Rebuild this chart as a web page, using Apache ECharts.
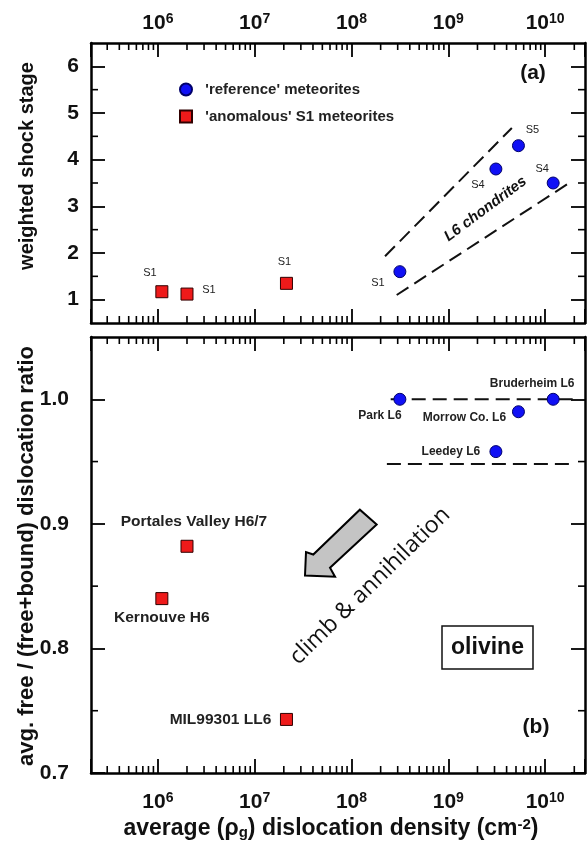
<!DOCTYPE html>
<html>
<head>
<meta charset="utf-8">
<script src="https://cdn.jsdelivr.net/npm/echarts@6/dist/echarts.min.js"></script>
<style>
html, body { margin: 0; padding: 0; background: #fff; }
#chart { width: 588px; height: 844px; }
</style>
</head>
<body>
<div id="chart"></div>
<script>
// reference meteorites (L6 chondrites)
const refDensity = [3.16e8, 3.1e9, 5.3e9, 1.21e10];
const refShock = [1.6, 3.8, 4.3, 3.5];
const refShockText = ['S1', 'S4', 'S5', 'S4'];
const refRatio = [1.0, 0.958, 0.99, 1.0];
const refNames = ['Park L6', 'Leedey L6', 'Morrow Co. L6', 'Bruderheim L6'];

// anomalous S1 meteorites
const anomDensity = [1.1e6, 2.0e6, 2.13e7];
const anomShock = [1.17, 1.12, 1.35];
const anomShockText = ['S1', 'S1', 'S1'];
const anomRatio = [0.84, 0.882, 0.743];
const anomNames = ['Kernouve H6', 'Portales Valley H6/7', 'MIL99301 LL6'];

// dashed guide lines
const bandUpperA = [[2.22e8, 1.93], [4.53e9, 4.68]];
const bandLowerA = [[2.93e8, 1.10], [1.8e10, 3.51]];
const bandUpperB = [[2.54e8, 1.0], [2.1e10, 1.0]];
const bandLowerB = [[2.32e8, 0.948], [2.0e10, 0.948]];

// climb & annihilation arrow outline (panel b)
const arrowOutline = [[3.31e7, 0.8586], [3.39e7, 0.8773], [4.03e7, 0.8754], [1.22e8, 0.9114],
                      [1.82e8, 0.8994], [6.0e7, 0.8648], [6.76e7, 0.8576]];

// axes
const densityRange = [2.04e5, 2.58e10];
const shockRange = [0.5, 6.5];
const shockTicks = [1, 2, 3, 4, 5, 6];
const shockMinor = [1.5, 2.5, 3.5, 4.5, 5.5];
const ratioRange = [0.7, 1.05];
const ratioTicks = [0.7, 0.8, 0.9, 1.0];
const ratioMinor = [0.75, 0.85, 0.95];
const minorMantissa = [2, 3, 4, 5, 6, 7, 8, 9];
const minorDecades = [1e5, 1e6, 1e7, 1e8, 1e9, 1e10];

// label placement (px offsets from the marker)
const refShockOffset = [[-22, 11], [-18, 16], [14, -16], [-11, -14]];
const anomShockOffset = [[-12, -19], [22, -4], [-2, -21]];
const refNameOffset = [[-20, 16], [-45, 0], [-54, 6], [-21, -16]];
const anomNameOffset = [[0, 19], [7, -25], [-66, 0]];

const REF = "'reference' meteorites";
const ANOM = "'anomalous' S1 meteorites";
const FONT = 'Liberation Sans, Arial, sans-serif';
const black = { color: '#000', width: 2.5 };

const xMinor = minorDecades.flatMap(d => minorMantissa.map(m => m * d))
    .filter(v => v > densityRange[0] * 1.01 && v < densityRange[1] * 0.99);

const powerRich = {
    b: { fontSize: 21, fontWeight: 'bold', fontFamily: FONT, color: '#111', lineHeight: 22 },
    s: { fontSize: 14, fontWeight: 'bold', fontFamily: FONT, color: '#111', verticalAlign: 'top', lineHeight: 12 }
};
function powerLabel(v) {
    const l = Math.log10(v), e = Math.round(l);
    if (Math.abs(l - e) > 1e-6) return '';
    return '{b|10}{s|' + e + '}';
}

function densityAxis(grid, pos, showLabels, margin) {
    return {
        type: 'log', logBase: 10, gridIndex: grid, position: pos,
        min: densityRange[0], max: densityRange[1],
        axisLine: { show: true, onZero: false, lineStyle: black },
        axisTick: { show: true, inside: true, length: 14, lineStyle: { color: '#000', width: 1.8 } },
        minorTick: { show: false }, splitLine: { show: false },
        axisLabel: { show: showLabels, margin: margin, formatter: powerLabel, rich: powerRich }
    };
}
function valueAxis(grid, pos, range, ticks, showLabels, margin, fmt) {
    return {
        type: 'value', gridIndex: grid, position: pos, min: range[0], max: range[1],
        axisLine: { show: true, onZero: false, lineStyle: black },
        axisTick: { show: true, inside: true, length: 14, customValues: ticks, lineStyle: { color: '#000', width: 1.8 } },
        splitLine: { show: false },
        axisLabel: { show: showLabels, customValues: ticks, margin: margin, formatter: fmt,
            fontSize: 21, fontWeight: 'bold', color: '#111', fontFamily: FONT }
    };
}

// short ticks between the labelled ones, on all four sides
function minorTicks(xi, yi, yMinor, yLow) {
    const data = xMinor.map(v => [v, yLow, 0]).concat(yMinor.map(v => [densityRange[0], v, 1]));
    return {
        type: 'custom', xAxisIndex: xi, yAxisIndex: yi, silent: true, clip: false, data: data,
        renderItem: function (params, api) {
            const cs = params.coordSys;
            const p = api.coord([api.value(0), api.value(1)]);
            const L = 7, st = { stroke: '#000', lineWidth: 1.6 };
            if (api.value(2) === 0) {
                const b = cs.y + cs.height;
                return { type: 'group', children: [
                    { type: 'line', shape: { x1: p[0], y1: b, x2: p[0], y2: b - L }, style: st },
                    { type: 'line', shape: { x1: p[0], y1: cs.y, x2: p[0], y2: cs.y + L }, style: st }
                ] };
            }
            const r = cs.x + cs.width;
            return { type: 'group', children: [
                { type: 'line', shape: { x1: cs.x, y1: p[1], x2: cs.x + L, y2: p[1] }, style: st },
                { type: 'line', shape: { x1: r, y1: p[1], x2: r - L, y2: p[1] }, style: st }
            ] };
        }
    };
}

function points(name, xs, ys, symbol, color, border, texts, offsets, fontSize, bold, xi, yi) {
    return {
        name: name, type: 'scatter', xAxisIndex: xi, yAxisIndex: yi,
        symbol: symbol, symbolSize: 12, z: 5,
        itemStyle: { color: color, borderColor: border, borderWidth: 1, opacity: 1 },
        data: xs.map((x, i) => ({
            value: [x, ys[i]],
            label: { offset: offsets[i] }
        })),
        label: {
            show: true, position: 'inside', color: '#222', fontSize: fontSize,
            fontWeight: bold ? 'bold' : 'normal', fontFamily: FONT,
            formatter: p => texts[p.dataIndex]
        }
    };
}

function dashed(data, xi, yi) {
    return {
        type: 'line', xAxisIndex: xi, yAxisIndex: yi, data: data, symbol: 'none', silent: true,
        lineStyle: { color: '#111', width: 2, type: [14, 7] }, z: 3
    };
}

const chart = echarts.init(document.getElementById('chart'));
chart.setOption({
    animation: false,
    grid: [
        { left: 91, right: 2, top: 43, height: 280 },
        { left: 91, right: 2, top: 337, height: 436 }
    ],
    xAxis: [
        densityAxis(0, 'bottom', false, 0),
        densityAxis(0, 'top', true, 9),
        densityAxis(1, 'bottom', true, 18),
        densityAxis(1, 'top', false, 0)
    ],
    yAxis: [
        valueAxis(0, 'left', shockRange, shockTicks, true, 12, v => String(v)),
        valueAxis(0, 'right', shockRange, shockTicks, false, 0),
        valueAxis(1, 'left', ratioRange, ratioTicks, true, 22, v => v.toFixed(1)),
        valueAxis(1, 'right', ratioRange, ratioTicks, false, 0)
    ],
    legend: {
        orient: 'vertical', left: 174, top: 77, itemWidth: 12, itemHeight: 12, itemGap: 12,
        selectedMode: false,
        data: [{ name: REF, icon: 'circle' }, { name: ANOM, icon: 'rect' }],
        formatter: n => '  ' + n,
        textStyle: { fontSize: 15, fontWeight: 'bold', color: '#222', fontFamily: FONT }
    },
    series: [
        minorTicks(0, 0, shockMinor, shockRange[0]),
        minorTicks(2, 2, ratioMinor, ratioRange[0]),
        dashed(bandUpperA, 0, 0),
        dashed(bandLowerA, 0, 0),
        dashed(bandUpperB, 2, 2),
        dashed(bandLowerB, 2, 2),
        {
            type: 'custom', xAxisIndex: 2, yAxisIndex: 2, silent: true, data: [0],
            renderItem: function (params, api) {
                return {
                    type: 'polygon',
                    shape: { points: arrowOutline.map(p => api.coord(p)) },
                    style: { fill: '#c4c4c4', stroke: '#000', lineWidth: 2, lineJoin: 'miter' }
                };
            }
        },
        points(REF, refDensity, refShock, 'circle', '#1010f5', '#00006a', refShockText, refShockOffset, 11, false, 0, 0),
        points(ANOM, anomDensity, anomShock, 'rect', '#ee1a1a', '#300000', anomShockText, anomShockOffset, 11, false, 0, 0),
        points(REF, refDensity, refRatio, 'circle', '#1010f5', '#00006a', refNames, refNameOffset, 12, true, 2, 2),
        points(ANOM, anomDensity, anomRatio, 'rect', '#ee1a1a', '#300000', anomNames, anomNameOffset, 15.5, true, 2, 2)
    ],
    graphic: [
        { type: 'text', x: 27.5, y: 166, rotation: Math.PI / 2,
          style: { text: 'weighted shock stage', fontSize: 20, fontWeight: 'bold', fontFamily: FONT, fill: '#111', align: 'center', verticalAlign: 'middle' } },
        { type: 'text', x: 27, y: 556, rotation: Math.PI / 2,
          style: { text: 'avg. free / (free+bound) dislocation ratio', fontSize: 22, fontWeight: 'bold', fontFamily: FONT, fill: '#111', align: 'center', verticalAlign: 'middle' } },
        { type: 'text', x: 331, y: 829,
          style: { text: 'average (ρ{sub|g}) dislocation density (cm{sup|-2})', fontSize: 23, fontWeight: 'bold', fontFamily: FONT, fill: '#111', align: 'center', verticalAlign: 'middle',
            rich: {
                sub: { fontSize: 15, fontWeight: 'bold', fontFamily: FONT, fill: '#111', verticalAlign: 'bottom', lineHeight: 4 },
                sup: { fontSize: 15, fontWeight: 'bold', fontFamily: FONT, fill: '#111', verticalAlign: 'top', lineHeight: 8 }
            } } },
        { type: 'text', x: 533, y: 73,
          style: { text: '(a)', fontSize: 21, fontWeight: 'bold', fontFamily: FONT, fill: '#111', align: 'center', verticalAlign: 'middle' } },
        { type: 'text', x: 536, y: 727,
          style: { text: '(b)', fontSize: 21, fontWeight: 'bold', fontFamily: FONT, fill: '#111', align: 'center', verticalAlign: 'middle' } },
        { type: 'text', x: 485.5, y: 209, rotation: 36.6 * Math.PI / 180,
          style: { text: 'L6 chondrites', fontSize: 15, fontWeight: 'bold', fontStyle: 'italic', fontFamily: FONT, fill: '#111', align: 'center', verticalAlign: 'middle' } },
        { type: 'text', x: 370, y: 586, rotation: 44.4 * Math.PI / 180,
          style: { text: 'climb & annihilation', fontSize: 23, fontFamily: 'Open Sans, sans-serif', fill: '#111', align: 'center', verticalAlign: 'middle' } },
        { type: 'rect', shape: { x: 442, y: 626, width: 91, height: 43 },
          style: { fill: '#fff', stroke: '#111', lineWidth: 1.5 } },
        { type: 'text', x: 487.5, y: 648,
          style: { text: 'olivine', fontSize: 23, fontWeight: 'bold', fontFamily: FONT, fill: '#111', align: 'center', verticalAlign: 'middle' } }
    ]
});
window.addEventListener('resize', () => chart.resize());
</script>
</body>
</html>
